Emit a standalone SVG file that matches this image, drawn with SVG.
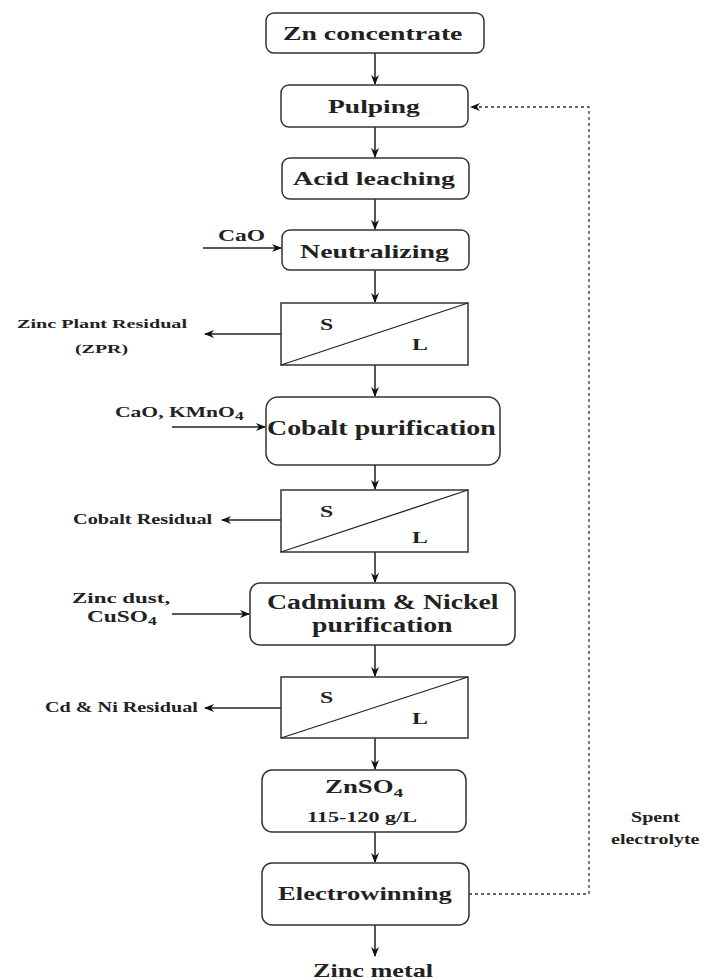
<svg xmlns="http://www.w3.org/2000/svg" width="728" height="980" viewBox="0 0 728 980" font-family="Liberation Serif, serif">
<style>
.box{fill:#fff;stroke:#333;stroke-width:1.5}
.t{font-weight:bold;fill:#222}
.c{stroke:#555;stroke-width:2;fill:none}
.s{stroke:#222;stroke-width:1.3;fill:none}
.d{stroke:#333;stroke-width:1.3;fill:none;stroke-dasharray:3,3}
</style>
<defs>
<marker id="ah" markerWidth="10" markerHeight="10" refX="9" refY="5" orient="auto" markerUnits="userSpaceOnUse">
<path d="M0,1 L10,5 L0,9 L3,5 Z" fill="#111"/>
</marker>
</defs>
<rect width="728" height="980" fill="#fff"/>

<g id="connectors">
<line class="c" x1="375" y1="53" x2="375" y2="84" marker-end="url(#ah)"/>
<line class="c" x1="375" y1="127" x2="375" y2="157" marker-end="url(#ah)"/>
<line class="c" x1="375" y1="199" x2="375" y2="229" marker-end="url(#ah)"/>
<line class="c" x1="375" y1="270" x2="375" y2="302" marker-end="url(#ah)"/>
<line class="c" x1="375" y1="365" x2="375" y2="396" marker-end="url(#ah)"/>
<line class="c" x1="375" y1="465" x2="375" y2="489" marker-end="url(#ah)"/>
<line class="c" x1="375" y1="552" x2="375" y2="582" marker-end="url(#ah)"/>
<line class="c" x1="375" y1="645" x2="375" y2="676" marker-end="url(#ah)"/>
<line class="c" x1="375" y1="738" x2="375" y2="769" marker-end="url(#ah)"/>
<line class="c" x1="375" y1="832" x2="375" y2="862" marker-end="url(#ah)"/>
<line class="c" x1="375" y1="925" x2="375" y2="956" marker-end="url(#ah)"/>
<line class="s" x1="203" y1="248" x2="281" y2="248" marker-end="url(#ah)"/>
<line class="s" x1="281" y1="334" x2="205" y2="334" marker-end="url(#ah)"/>
<line class="s" x1="172" y1="427" x2="265" y2="427" marker-end="url(#ah)"/>
<line class="s" x1="281" y1="520" x2="222" y2="520" marker-end="url(#ah)"/>
<line class="s" x1="172" y1="614" x2="249" y2="614" marker-end="url(#ah)"/>
<line class="s" x1="281" y1="708" x2="205" y2="708" marker-end="url(#ah)"/>
<polyline class="d" points="469,894 589,894 589,107 471,107" marker-end="url(#ah)"/>
</g>

<g id="zn-concentrate">
<rect class="box" x="266" y="13" width="218" height="40" rx="8"/>
<text class="t" font-size="19" transform="translate(283,40) scale(1.46,1)">Zn concentrate</text>
</g>
<g id="pulping">
<rect class="box" x="281" y="85" width="187" height="42" rx="8"/>
<text class="t" font-size="19" transform="translate(328,113) scale(1.45,1)">Pulping</text>
</g>
<g id="acid-leaching">
<rect class="box" x="282" y="158" width="187" height="41" rx="8"/>
<text class="t" font-size="19" transform="translate(293,185) scale(1.47,1)">Acid leaching</text>
</g>
<g id="neutralizing">
<rect class="box" x="282" y="230" width="187" height="40" rx="8"/>
<text class="t" font-size="19" transform="translate(300,258) scale(1.47,1)">Neutralizing</text>
</g>
<g id="cao">
<text class="t" font-size="16" transform="translate(218,241) scale(1.47,1)">CaO</text>
</g>
<g id="sl1">
<rect class="box" x="281" y="303" width="187" height="62"/>
<line class="s" x1="281" y1="365" x2="468" y2="303"/>
<text class="t" font-size="17" transform="translate(320,330) scale(1.4,1)">S</text>
<text class="t" font-size="17" transform="translate(412,350) scale(1.4,1)">L</text>
</g>
<g id="zpr">
<text class="t" font-size="13" transform="translate(17,328) scale(1.55,1)">Zinc Plant Residual</text>
<text class="t" font-size="13" transform="translate(75,353) scale(1.53,1)">(ZPR)</text>
</g>
<g id="cobalt-purification">
<rect class="box" x="266" y="397" width="234" height="68" rx="12"/>
<text class="t" font-size="22" transform="translate(267,435) scale(1.27,1)">Cobalt purification</text>
</g>
<g id="cao-kmno4">
<text class="t" font-size="15" transform="translate(115,417) scale(1.44,1)">CaO, KMnO<tspan font-size="12" dy="3">4</tspan></text>
</g>
<g id="sl2">
<rect class="box" x="281" y="490" width="187" height="62"/>
<line class="s" x1="281" y1="552" x2="468" y2="490"/>
<text class="t" font-size="17" transform="translate(320,517) scale(1.4,1)">S</text>
<text class="t" font-size="17" transform="translate(412,543) scale(1.4,1)">L</text>
</g>
<g id="cobalt-residual">
<text class="t" font-size="14" transform="translate(73,524) scale(1.45,1)">Cobalt Residual</text>
</g>
<g id="cd-ni-purification">
<rect class="box" x="250" y="583" width="265" height="62" rx="10"/>
<text class="t" font-size="20" transform="translate(267,609) scale(1.39,1)">Cadmium &amp; Nickel</text>
<text class="t" font-size="20" transform="translate(312,632) scale(1.39,1)">purification</text>
</g>
<g id="zinc-dust">
<text class="t" font-size="15" transform="translate(72,603) scale(1.53,1)">Zinc dust,</text>
<text class="t" font-size="16" transform="translate(87,622) scale(1.46,1)">CuSO<tspan font-size="12" dy="3">4</tspan></text>
</g>
<g id="sl3">
<rect class="box" x="281" y="677" width="187" height="61"/>
<line class="s" x1="281" y1="738" x2="468" y2="677"/>
<text class="t" font-size="17" transform="translate(320,703) scale(1.4,1)">S</text>
<text class="t" font-size="17" transform="translate(412,724) scale(1.4,1)">L</text>
</g>
<g id="cd-ni-residual">
<text class="t" font-size="14" transform="translate(45,712) scale(1.44,1)">Cd &amp; Ni Residual</text>
</g>
<g id="znso4">
<rect class="box" x="262" y="770" width="204" height="62" rx="10"/>
<text class="t" font-size="18" transform="translate(325,793) scale(1.49,1)">ZnSO<tspan font-size="13" dy="4">4</tspan></text>
<text class="t" font-size="14" transform="translate(307,822) scale(1.58,1)">115-120 g/L</text>
</g>
<g id="electrowinning">
<rect class="box" x="262" y="863" width="207" height="62" rx="10"/>
<text class="t" font-size="19" transform="translate(278,900) scale(1.4,1)">Electrowinning</text>
</g>
<g id="spent-electrolyte">
<text class="t" font-size="14" transform="translate(631,822) scale(1.43,1)">Spent</text>
<text class="t" font-size="14" transform="translate(611,844) scale(1.43,1)">electrolyte</text>
</g>
<g id="zinc-metal">
<text class="t" font-size="19" transform="translate(313,977) scale(1.38,1)">Zinc metal</text>
</g>
</svg>
